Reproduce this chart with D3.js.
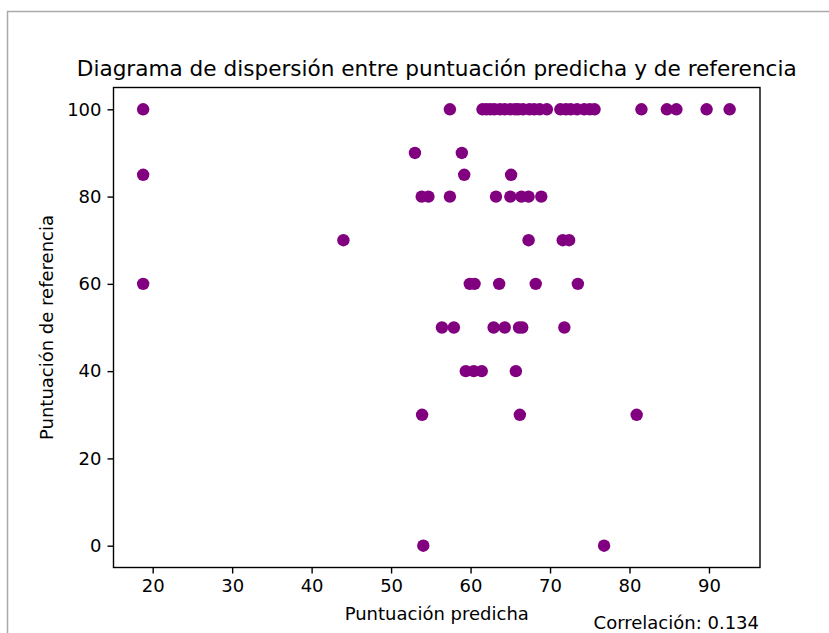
<!DOCTYPE html>
<html>
<head>
<meta charset="utf-8">
<script src="https://cdn.jsdelivr.net/npm/d3@7"></script>
<style>
  body { margin: 0; background: #fff; }
  svg { display: block; font-family: "DejaVu Sans", sans-serif; }
</style>
</head>
<body>
<div id="wrapper"></div>
<script>
// puntuación predicha (x) y de referencia (y)
const predicha = [
    18.8, 57.4, 61.5, 62.0, 62.5, 63.0, 63.7, 64.3, 65.0, 65.6, 66.0, 66.6, 67.4, 68.0,
    68.7, 69.6, 71.3, 72.0, 72.6, 73.4, 74.3, 75.0, 75.6, 81.5, 84.7, 85.9, 89.7, 92.6,
    53.0, 58.9,
    18.8, 59.2, 65.1,
    53.85, 54.7, 57.4, 63.2, 65.0, 66.4, 67.3, 68.9,
    44.0, 67.3, 71.6, 72.4,
    18.8, 59.9, 60.5, 63.6, 68.2, 73.5,
    56.4, 57.9, 62.9, 64.3, 66.1, 66.5, 71.8,
    59.4, 60.4, 61.4, 65.7,
    53.9, 66.2, 80.9,
    54.05, 76.8
];
const referencia = [
    100, 100, 100, 100, 100, 100, 100, 100, 100, 100, 100, 100, 100, 100,
    100, 100, 100, 100, 100, 100, 100, 100, 100, 100, 100, 100, 100, 100,
    90, 90,
    85, 85, 85,
    80, 80, 80, 80, 80, 80, 80, 80,
    70, 70, 70, 70,
    60, 60, 60, 60, 60, 60,
    50, 50, 50, 50, 50, 50, 50,
    40, 40, 40, 40,
    30, 30, 30,
    0, 0
];
const xTicks = [20, 30, 40, 50, 60, 70, 80, 90];
const yTicks = [0, 20, 40, 60, 80, 100];
const correlacion = "0.134";

const puntos = predicha.map((x, i) => ({x: x, y: referencia[i]}));

const dimension = {
    width: 829,
    height: 633,
    margin: {top: 87.5, right: 69, bottom: 65.5, left: 113.5}
};
dimension.boundedWidth = dimension.width - dimension.margin.left - dimension.margin.right;
dimension.boundedHeight = dimension.height - dimension.margin.top - dimension.margin.bottom;

const svg = d3.select("#wrapper")
    .append("svg")
    .attr("width", dimension.width)
    .attr("height", dimension.height);

// marco gris de la captura
svg.append("path")
    .attr("d", "M7.5,633 V11.5 H829")
    .attr("fill", "none")
    .attr("stroke", "#aaaaaa")
    .attr("stroke-width", 1.5);

const bounds = svg.append("g")
    .attr("transform", `translate(${dimension.margin.left},${dimension.margin.top})`);

const x = d3.scaleLinear()
    .domain([15.07, 96.42])
    .range([0, dimension.boundedWidth]);

const y = d3.scaleLinear()
    .domain([-5, 105])
    .range([dimension.boundedHeight, 0]);

bounds.selectAll("circle")
    .data(puntos)
    .enter()
    .append("circle")
    .attr("cx", d => x(d.x))
    .attr("cy", d => y(d.y))
    .attr("r", 6.2)
    .attr("fill", "#800080");

const xAxis = bounds.append("g")
    .attr("transform", `translate(0,${dimension.boundedHeight})`)
    .call(d3.axisBottom(x).tickValues(xTicks).tickSize(6).tickSizeOuter(0).tickPadding(6));

const yAxis = bounds.append("g")
    .call(d3.axisLeft(y).tickValues(yTicks).tickSize(6).tickSizeOuter(0).tickPadding(6));

[xAxis, yAxis].forEach(ax => {
    ax.select(".domain").remove();
    ax.selectAll("line").attr("stroke", "#000").attr("stroke-width", 1.4);
    ax.selectAll("text")
        .attr("fill", "#000")
        .style("font-size", "18px")
        .style("font-family", "DejaVu Sans");
});

// ejes (spines)
bounds.append("rect")
    .attr("width", dimension.boundedWidth)
    .attr("height", dimension.boundedHeight)
    .attr("fill", "none")
    .attr("stroke", "#000")
    .attr("stroke-width", 1.4);

svg.append("text")
    .attr("x", dimension.margin.left + dimension.boundedWidth / 2)
    .attr("y", 76)
    .attr("text-anchor", "middle")
    .style("font-size", "21.6px")
    .text("Diagrama de dispersión entre puntuación predicha y de referencia");

svg.append("text")
    .attr("x", dimension.margin.left + dimension.boundedWidth / 2)
    .attr("y", 620)
    .attr("text-anchor", "middle")
    .style("font-size", "18px")
    .text("Puntuación predicha");

svg.append("text")
    .attr("transform", `translate(53,${dimension.margin.top + dimension.boundedHeight / 2}) rotate(-90)`)
    .attr("text-anchor", "middle")
    .style("font-size", "18px")
    .text("Puntuación de referencia");

svg.append("text")
    .attr("x", 759)
    .attr("y", 629)
    .attr("text-anchor", "end")
    .style("font-size", "18px")
    .text("Correlación: " + correlacion);
</script>
</body>
</html>
